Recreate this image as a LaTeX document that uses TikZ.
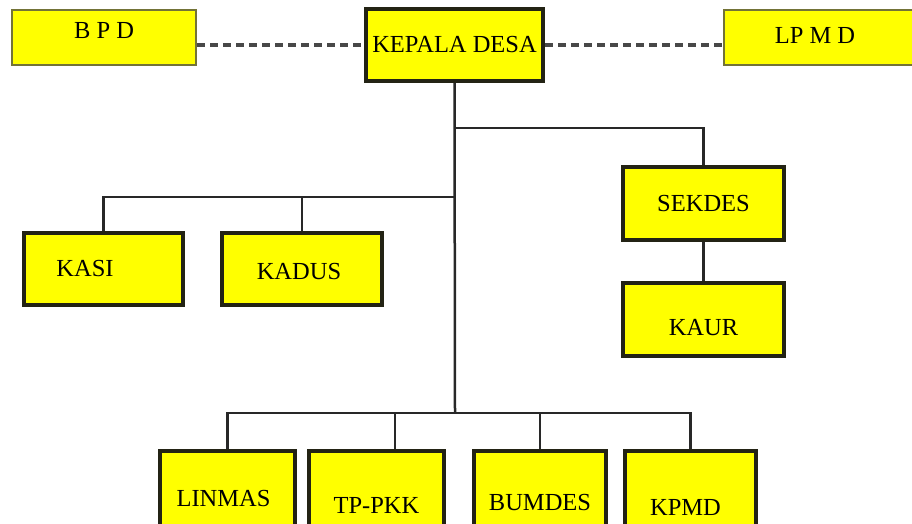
\documentclass[tikz,border=0pt]{standalone}
\usepackage{fontspec}
\setmainfont{Liberation Serif}
\definecolor{boxyellow}{RGB}{255,255,0}
\definecolor{boxline}{RGB}{35,35,20}
\definecolor{thinline}{RGB}{115,115,55}
\definecolor{linkgray}{RGB}{40,40,40}
% move a label up or down inside its box
\newcommand{\boxtext}[2]{\raisebox{#1}[\height][\depth]{#2}}
\begin{document}
\begin{tikzpicture}[x=1pt,y=-1pt,
    link/.style={draw=linkgray,line width=2.5pt},
    dashlink/.style={draw=linkgray!85,line width=4pt,dash pattern=on 8pt off 5pt}]

        \useasboundingbox (0,0) rectangle (912,523);

        \begin{scope}[every node/.style={rectangle,draw=thinline,line width=2pt,fill=boxyellow,
            font=\fontsize{24.5}{28}\selectfont,minimum height=55pt,inner sep=0pt}]
          \node[minimum width=184pt] (bpd)  at (104,37.5) {\boxtext{7pt}{B P D}};
          \node[minimum width=190pt] (lpmd) at (819,37.5) {\boxtext{2.5pt}{LP M D}\hspace*{8pt}};
        \end{scope}

        \begin{scope}[every node/.style={rectangle,draw=boxline,line width=4pt,fill=boxyellow,
            font=\fontsize{24.5}{28}\selectfont,minimum height=72pt,inner sep=0pt}]
          \node[minimum width=177pt] (kades)  at (454.5,45)  {KEPALA DESA};
          \node[minimum width=159pt] (kasi)   at (103.5,269) {KASI\hspace*{37pt}};
          \node[minimum width=160pt] (kadus)  at (302,269)   {\boxtext{-2pt}{KADUS}\hspace*{6pt}};
          \node[minimum width=161pt,minimum height=73pt] (sekdes) at (703.5,203.5) {SEKDES};
          \node[minimum width=161pt,minimum height=73pt] (kaur)   at (703.5,319.5) {\boxtext{-8pt}{KAUR}};
          \node[minimum width=135pt,minimum height=82pt] (linmas) at (227.5,492) {\boxtext{-6pt}{LINMAS}\hspace*{8pt}};
          \node[minimum width=135pt,minimum height=82pt] (tppkk)  at (376.5,492) {\boxtext{-13pt}{TP-PKK}};
          \node[minimum width=132pt,minimum height=82pt] (bumdes) at (540,492)   {\boxtext{-10pt}{BUMDES}};
          \node[minimum width=131pt,minimum height=82pt] (kpmd)   at (690.5,492) {\boxtext{-15pt}{KPMD}\hspace*{10pt}};
        \end{scope}

        % junctions on the trunk
        \coordinate (jsek) at (455,128);
        \coordinate (jkas) at (455,197);
        \coordinate (jbot) at (455,413);

        \path[dashlink] (kades.west -| bpd.east) -- (kades.west);
        \path[dashlink] (kades.east) -- (kades.east -| lpmd.west);

        \path[link] (kades.south) -- (jbot);
        \path[link] (jsek) -| (sekdes.north);
        \path[link] (sekdes.south) -- (kaur.north);
        \path[link] (jkas) -| (kasi.north);
        \path[link] (kadus.north) -- (kadus.north |- jkas);
        \path[link] (linmas.north) |- (jbot) -| (kpmd.north);
        \path[link] ([xshift=18.5pt]tppkk.north) -- ([xshift=18.5pt]tppkk.north |- jbot);
        \path[link] (bumdes.north) -- (bumdes.north |- jbot);

      \end{tikzpicture}
\end{document}
